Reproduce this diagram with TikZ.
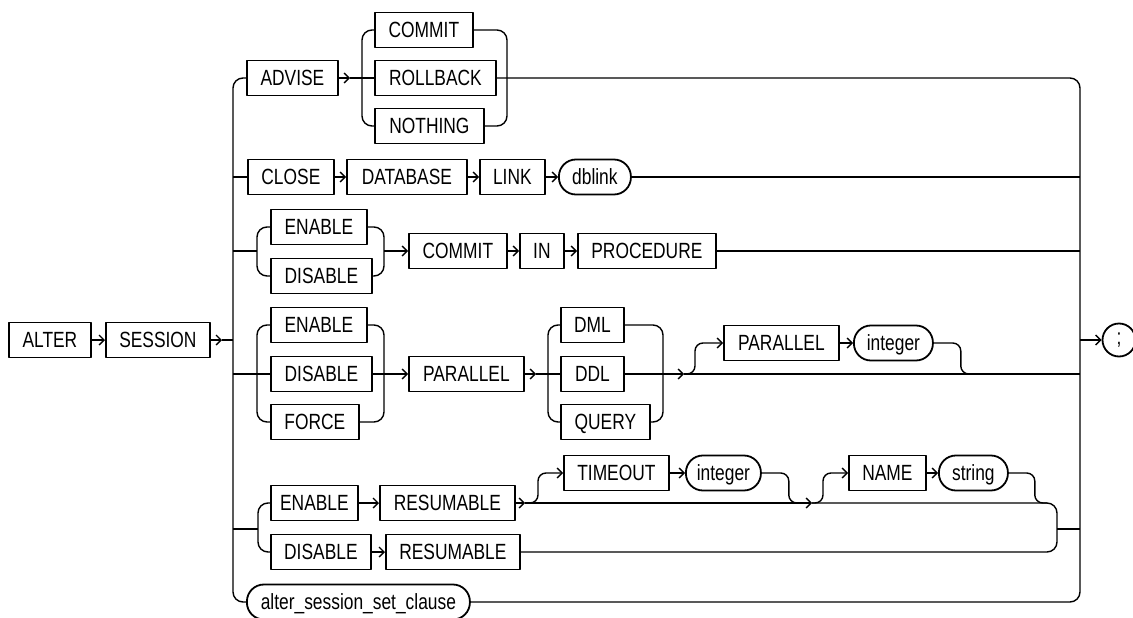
\documentclass[tikz,border=0pt]{standalone}
\usepackage{fontspec}
\setmainfont{Liberation Sans}[FakeStretch=0.79]
\usetikzlibrary{arrows.meta}
\newcommand\kwfont{\fontsize{22}{26}\selectfont}
\begin{document}
\begin{tikzpicture}[x=1pt,y=-1pt,line width=1.4pt,line join=round,
  kw/.style={draw,line width=1.8pt,minimum height=35pt,inner sep=0pt,anchor=west,font=\kwfont,text height=15.7pt,text depth=0pt},
  ident/.style={kw,rounded corners=17pt},
  arr/.style={-{Straight Barb[length=5pt,width=10pt]}},
  rc/.style={rounded corners=10pt},
  rs/.style={rounded corners=8pt}]
\useasboundingbox (0,0) rectangle (1133,618);

% main line
\node[kw,minimum width=82] (alter) at (8,340) {ALTER};
\node[kw,minimum width=104] (session) at (105,340) {SESSION};
\draw[arr] (alter) -- (session);
\coordinate (sa) at (222,340);
\coordinate (L) at (233,340);
\draw[arr] (session) -- (sa);
\draw (sa) -- (L);

% trunks
\coordinate (Ltop) at (233,78);
\coordinate (Lbot) at (233,602);
\coordinate (Rtop) at (1080,78);
\coordinate (Rbot) at (1080,602);

% row 1
\node[kw,minimum width=91] (advise) at (246,78) {ADVISE};
\node[kw,minimum width=98] (commit) at (374,30) {COMMIT};
\node[kw,minimum width=121] (rollback) at (374,78) {ROLLBACK};
\node[kw,minimum width=109] (nothing) at (374,126) {NOTHING};
\node[ident,minimum width=223] (asc) at (246,602) {alter\_session\_set\_clause};
\draw[rc] (advise.west) -- (Ltop) -- (Lbot) -- (asc.west);
\draw[rc] (rollback.east) -- (Rtop) -- (Rbot) -- (asc.east);
\coordinate (a1) at (350,78);
\draw[arr] (advise) -- (a1);
\draw (a1) -- (rollback);
\coordinate (c1L) at (362,78);
\coordinate (c1R) at (507,78);
\draw[rc] (commit.west) -| (c1L) |- (nothing.west);
\draw[rc] (commit.east) -| (c1R) |- (nothing.east);

% row 2
\node[kw,minimum width=86] (close) at (247,177) {CLOSE};
\node[kw,minimum width=120] (database) at (346,177) {DATABASE};
\node[kw,minimum width=65] (link) at (479,177) {LINK};
\node[ident,minimum width=72] (dblink) at (558,177) {dblink};
\coordinate (L2) at (233,177);
\coordinate (R2) at (1080,177);
\draw (L2) -- (close);
\draw[arr] (close) -- (database);
\draw[arr] (database) -- (link);
\draw[arr] (link) -- (dblink);
\draw (dblink) -- (R2);

% row 3
\node[kw,minimum width=96] (en3) at (270,227) {ENABLE};
\node[kw,minimum width=101] (dis3) at (270,276) {DISABLE};
\node[kw,minimum width=98] (commit3) at (408,251) {COMMIT};
\node[kw,minimum width=44] (in3) at (519,251) {IN};
\node[kw,minimum width=138] (proc) at (577,251) {PROCEDURE};
\coordinate (L3) at (233,251);
\coordinate (b3L) at (257,251);
\coordinate (b3R) at (384,251);
\coordinate (R3) at (1080,251);
\draw (L3) -- (b3L);
\draw[rc] (en3.west) -| (b3L) |- (dis3.west);
\draw[rc] (en3.east) -| (b3R) |- (dis3.east);
\draw[arr] (b3R) -- (commit3);
\draw[arr] (commit3) -- (in3);
\draw[arr] (in3) -- (proc);
\draw (proc) -- (R3);

% row 4
\node[kw,minimum width=96] (en4) at (270,325) {ENABLE};
\node[kw,minimum width=101] (dis4) at (270,374) {DISABLE};
\node[kw,minimum width=88] (force) at (270,422) {FORCE};
\node[kw,minimum width=115] (par4) at (408,374) {PARALLEL};
\node[kw,minimum width=63] (dml) at (560,325) {DML};
\node[kw,minimum width=63] (ddl) at (560,374) {DDL};
\node[kw,minimum width=89] (query) at (560,422) {QUERY};
\node[kw,minimum width=115] (par5) at (723,343) {PARALLEL};
\node[ident,minimum width=79] (int1) at (853,343) {integer};
\coordinate (L4) at (233,374);
\coordinate (b4L) at (257,374);
\coordinate (b4R) at (384,374);
\coordinate (a4) at (536,374);
\coordinate (b5L) at (548,374);
\coordinate (b5R) at (663,374);
\coordinate (a5) at (684,374);
\coordinate (o1e) at (968,374);
\coordinate (R4) at (1080,374);
\draw (L4) -- (dis4);
\draw[rc] (en4.west) -| (b4L) |- (force.west);
\draw[rc] (en4.east) -| (b4R) |- (force.east);
\draw (dis4) -- (b4R);
\draw[arr] (b4R) -- (par4);
\draw[arr] (par4) -- (a4);
\draw (a4) -- (ddl);
\draw[rc] (dml.west) -| (b5L) |- (query.west);
\draw[rc] (dml.east) -| (b5R) |- (query.east);
\draw (ddl) -- (b5R);
\draw[arr] (b5R) -- (a5);
\draw (a5) -- (R4);
\draw[arr,rs] (a5) -- ++(11,0) |- (par5.west);
\draw[arr] (par5) -- (int1);
\draw[rs] (int1.east) -- ++(27,0) |- (o1e);

% row 5
\node[kw,minimum width=87] (en5) at (270,503) {ENABLE};
\node[kw,minimum width=135] (res5a) at (379,503) {RESUMABLE};
\node[kw,minimum width=100] (dis5) at (270,552) {DISABLE};
\node[kw,minimum width=134] (res5b) at (385,552) {RESUMABLE};
\node[kw,minimum width=105] (timeout) at (563,473) {TIMEOUT};
\node[ident,minimum width=75] (int2) at (685,473) {integer};
\node[kw,minimum width=77] (name) at (848,473) {NAME};
\node[ident,minimum width=69] (str) at (938,473) {string};
\coordinate (L5) at (233,529);
\coordinate (b6L) at (258,529);
\coordinate (a6) at (525,503);
\coordinate (o2e) at (800,503);
\coordinate (a7) at (812,503);
\coordinate (o3e) at (1047,503);
\coordinate (b6R) at (1057,529);
\coordinate (R5) at (1080,529);
\draw (L5) -- (b6L);
\draw[rc] (en5.west) -| (b6L) |- (dis5.west);
\draw[arr] (en5) -- (res5a);
\draw[arr] (dis5) -- (res5b);
\draw[arr] (res5a) -- (a6);
\draw[arr,rs] (a6) -- ++(13,0) |- (timeout.west);
\draw[arr] (timeout) -- (int2);
\draw[rs] (int2.east) -- ++(27,0) |- (o2e);
\draw[arr] (a6) -- (a7);
\draw[arr,rs] (a7) -- ++(11,0) |- (name.west);
\draw[arr] (name) -- (str);
\draw[rs] (str.east) -- ++(26,0) |- (o3e);
\draw[rc] (a7) -| (b6R) |- (res5b.east);
\draw (b6R) -- (R5);

% end
\node[draw,circle,line width=1.8pt,minimum size=33pt,inner sep=0pt,font=\kwfont] (semi) at (1119,340) {;};
\coordinate (Rm) at (1080,340);
\draw[arr] (Rm) -- (semi);
\end{tikzpicture}
\end{document}
